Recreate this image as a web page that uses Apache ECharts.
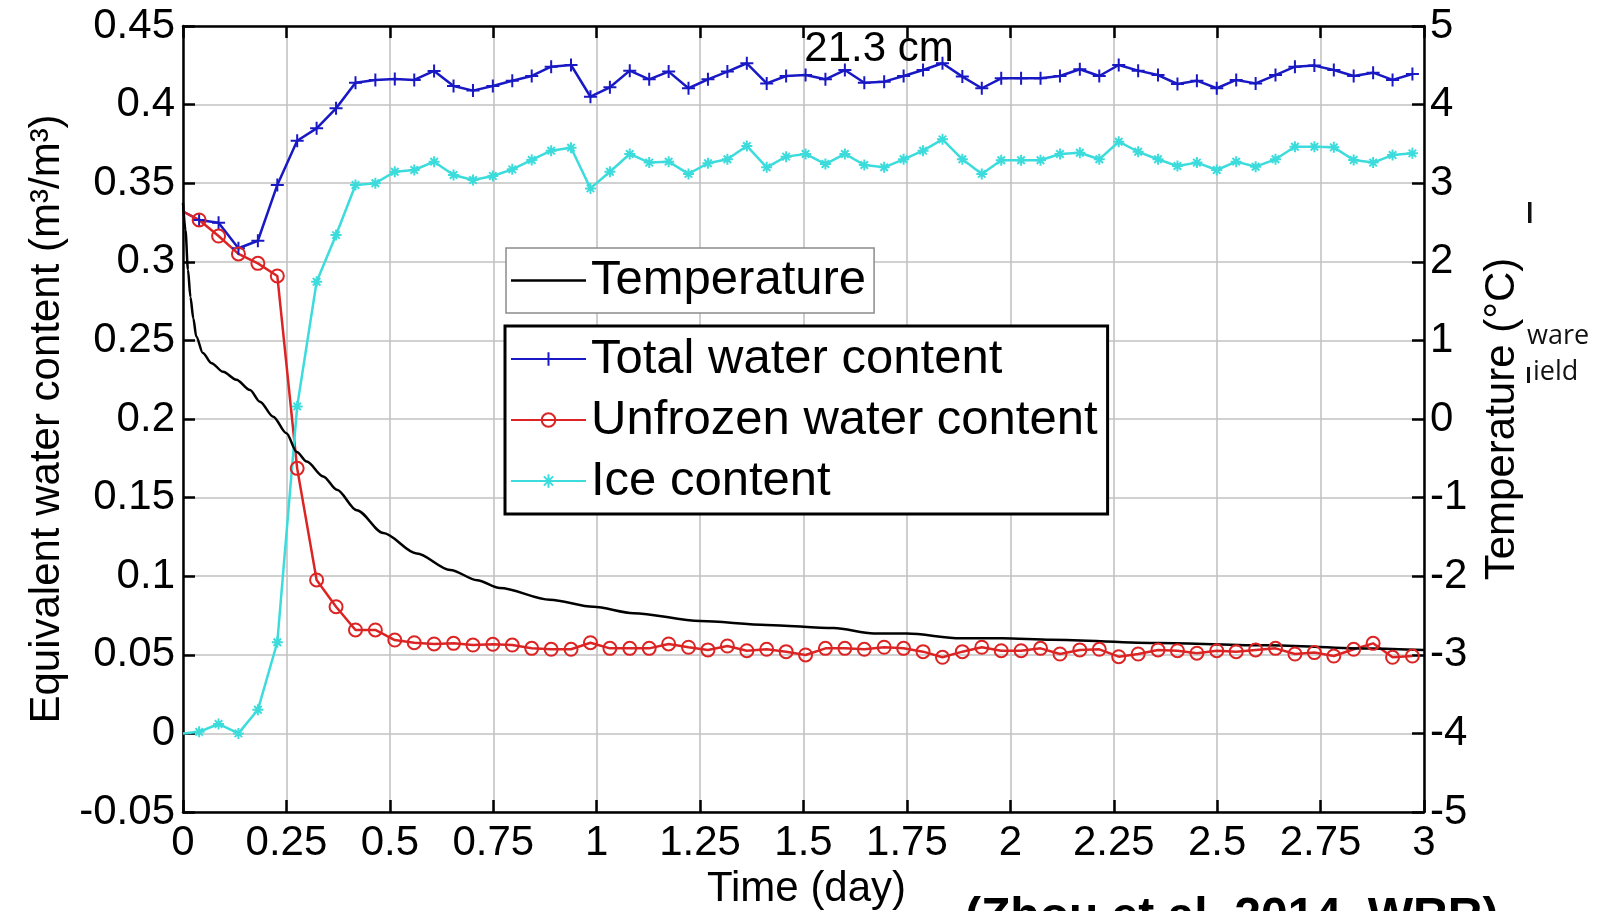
<!DOCTYPE html>
<html>
<head>
<meta charset="utf-8">
<script src="https://cdn.jsdelivr.net/npm/echarts@6/dist/echarts.min.js"></script>
<style>
  html, body { margin: 0; padding: 0; background: #fff; }
  #chart { width: 1610px; height: 911px; }
</style>
</head>
<body>
<div id="chart"></div>
<script>
// Sampling times (day) of the water-content measurements at 21.3 cm depth
const sampleDays = [0, 0.039, 0.086, 0.134, 0.181, 0.228, 0.276, 0.323, 0.370, 0.417, 0.465,
  0.512, 0.559, 0.607, 0.654, 0.701, 0.749, 0.796, 0.843, 0.890, 0.938,
  0.985, 1.032, 1.080, 1.127, 1.174, 1.222, 1.269, 1.316, 1.363, 1.411,
  1.458, 1.505, 1.553, 1.600, 1.647, 1.695, 1.742, 1.789, 1.836, 1.884,
  1.931, 1.978, 2.026, 2.073, 2.120, 2.168, 2.215, 2.262, 2.309, 2.357,
  2.404, 2.451, 2.499, 2.546, 2.593, 2.641, 2.688, 2.735, 2.782, 2.830,
  2.877, 2.924, 2.972];

// Total water content (m3/m3)
const totalWater = [0.332, 0.3266, 0.3249, 0.3086, 0.3134, 0.3489, 0.377, 0.3849, 0.3976, 0.4139, 0.4157,
  0.4163, 0.4157, 0.4214, 0.4118, 0.4089, 0.4118, 0.4152, 0.4182, 0.4241, 0.4252,
  0.405, 0.411, 0.4216, 0.4161, 0.421, 0.4104, 0.4161, 0.421, 0.4263, 0.4135,
  0.4182, 0.4188, 0.4161, 0.422, 0.4139, 0.4146, 0.4182, 0.422, 0.4263, 0.4178,
  0.4104, 0.4167, 0.4167, 0.4167, 0.4182, 0.4225, 0.4182, 0.4252, 0.4216, 0.4188,
  0.4131, 0.4152, 0.4104, 0.4157, 0.4135, 0.4188, 0.4241, 0.4248, 0.422, 0.4182,
  0.4203, 0.4157, 0.4195];

// Unfrozen water content (m3/m3)
const unfrozenWater = [0.332, 0.3266, 0.3164, 0.305, 0.299, 0.291, 0.1686, 0.0976, 0.0806, 0.0658, 0.0658,
  0.0594, 0.0577, 0.0569, 0.0573, 0.0562, 0.0567, 0.0562, 0.0541, 0.0535, 0.0535,
  0.0577, 0.0541, 0.0541, 0.0541, 0.0569, 0.0548, 0.0531, 0.0556, 0.0526, 0.0535,
  0.052, 0.0499, 0.0541, 0.0541, 0.0535, 0.0548, 0.0541, 0.052, 0.0484, 0.052,
  0.0548, 0.0526, 0.0526, 0.0541, 0.0505, 0.0531, 0.0535, 0.0488, 0.0505, 0.0531,
  0.0526, 0.051, 0.0526, 0.052, 0.0531, 0.0541, 0.0505, 0.0514, 0.0492, 0.0535,
  0.0573, 0.0484, 0.0492];

// Ice content expressed as equivalent water (m3/m3)
const iceContent = [0, 0.001, 0.006, 0.000, 0.015, 0.058, 0.208, 0.2873, 0.317, 0.3489, 0.35,
  0.3573, 0.3584, 0.3637, 0.3552, 0.352, 0.3546, 0.3588, 0.3648, 0.3707, 0.3726,
  0.3467, 0.3573, 0.3686, 0.3631, 0.3637, 0.3559, 0.3627, 0.3652, 0.3737, 0.3601,
  0.3669, 0.3686, 0.3622, 0.3686, 0.3616, 0.3601, 0.3652, 0.3707, 0.3779, 0.3652,
  0.3559, 0.3646, 0.3646, 0.3646, 0.3686, 0.3694, 0.3652, 0.3764, 0.37, 0.3652,
  0.3609, 0.3631, 0.3584, 0.3637, 0.3605, 0.3652, 0.3732, 0.3732, 0.3728, 0.3648,
  0.3631, 0.3679, 0.369];

// Soil temperature record (day, degC)
const tempDays = [0, 0.006, 0.012, 0.018, 0.025, 0.032, 0.048, 0.069, 0.097, 0.129, 0.162,
  0.186, 0.218, 0.25, 0.275, 0.299, 0.339, 0.372, 0.42, 0.484, 0.565,
  0.646, 0.711, 0.766, 0.887, 0.992, 1.089, 1.25, 1.411, 1.573, 1.67,
  1.75, 1.88, 1.98, 2.1, 2.36, 2.62, 2.87, 3.0];
const tempC = [2.75, 2.4, 1.9, 1.55, 1.28, 1.05, 0.84, 0.71, 0.6, 0.5, 0.37,
  0.22, 0.03, -0.18, -0.42, -0.54, -0.73, -0.9, -1.16, -1.45, -1.71,
  -1.92, -2.05, -2.15, -2.3, -2.39, -2.47, -2.57, -2.62, -2.66, -2.73,
  -2.73, -2.79, -2.79, -2.81, -2.85, -2.88, -2.92, -2.94];

// Tick labels
const dayTicks = ['0', '0.25', '0.5', '0.75', '1', '1.25', '1.5', '1.75', '2', '2.25', '2.5', '2.75', '3'];
const waterTicks = ['-0.05', '0', '0.05', '0.1', '0.15', '0.2', '0.25', '0.3', '0.35', '0.4', '0.45'];
const tempTicks = ['-5', '-4', '-3', '-2', '-1', '0', '1', '2', '3', '4', '5'];

const FONT = '"Liberation Sans", Arial, Helvetica, sans-serif';
const BLUE = '#1818c4';
const RED = '#dc2424';
const CYAN = '#3ddcdc';
const GRID_GRAY = '#c2c2c2';

const PLUS = 'path://M5,0L5,10M0,5L10,5';
const STAR = 'path://M5,0L5,10M0,5L10,5M1.6,1.6L8.4,8.4M8.4,1.6L1.6,8.4';

function pairs(values) {
  return sampleDays.map((d, i) => i === 0
    ? { value: [d, values[i]], symbol: 'none' }
    : [d, values[i]]);
}

const axisLine = { show: true, onZero: false, lineStyle: { color: '#000', width: 2.5 } };
const axisTick = { show: true, inside: true, length: 12, lineStyle: { color: '#000', width: 2.5 } };
const labelFont = { fontFamily: FONT, fontSize: 42, color: '#000' };

const chart = echarts.init(document.getElementById('chart'), null, { renderer: 'canvas' });

chart.setOption({
  animation: false,
  backgroundColor: '#fff',
  grid: { left: 183, right: 186, top: 26, bottom: 99, containLabel: false, outerBoundsMode: 'none' },
  xAxis: [
    {
      type: 'value', min: 0, max: 3, interval: 0.25, position: 'bottom',
      axisLine, axisTick,
      axisLabel: Object.assign({ margin: 10, formatter: (v, i) => dayTicks[i] }, labelFont),
      splitLine: { show: true, lineStyle: { color: GRID_GRAY, width: 1.6 } },
      name: 'Time (day)', nameLocation: 'middle', nameGap: 52,
      nameTextStyle: Object.assign({ padding: [0, 0, 0, 6] }, labelFont)
    },
    {
      type: 'value', min: 0, max: 3, interval: 0.25, position: 'top',
      axisLine, axisTick,
      axisLabel: { show: false },
      splitLine: { show: false }
    }
  ],
  yAxis: [
    {
      type: 'value', min: -0.05, max: 0.45, interval: 0.05, position: 'left',
      axisLine, axisTick,
      axisLabel: Object.assign({ margin: 8, formatter: (v, i) => waterTicks[i] }, labelFont),
      splitLine: { show: true, lineStyle: { color: GRID_GRAY, width: 1.6 } },
      name: 'Equivalent water content (m³/m³)', nameLocation: 'middle', nameGap: 109,
      nameTextStyle: labelFont
    },
    {
      type: 'value', min: -5, max: 5, interval: 1, position: 'right',
      axisLine, axisTick,
      axisLabel: Object.assign({ margin: 6, formatter: (v, i) => tempTicks[i] }, labelFont),
      splitLine: { show: false },
      name: 'Temperature (°C)', nameLocation: 'middle', nameGap: 57,
      nameTextStyle: labelFont
    }
  ],
  legend: [
    {
      data: [{ name: 'Temperature', icon: 'rect' }],
      orient: 'vertical', left: 506, top: 248,
      itemWidth: 75, itemHeight: 2.5,
      padding: [7, 8, 7, 5],
      borderColor: '#8c8c8c', borderWidth: 1.5, backgroundColor: '#fff',
      selectedMode: false,
      textStyle: { fontFamily: FONT, fontSize: 49, color: '#000', lineHeight: 51 }
    },
    {
      data: ['Total water content', 'Unfrozen water content', 'Ice content'],
      orient: 'vertical', left: 505, top: 326,
      itemWidth: 75, itemHeight: 17, itemGap: 5,
      padding: [5, 10, 5, 5],
      borderColor: '#000', borderWidth: 3, backgroundColor: '#fff',
      selectedMode: false,
      itemStyle: { borderWidth: 2 },
      textStyle: { fontFamily: FONT, fontSize: 49, color: '#000', lineHeight: 56 }
    }
  ],
  series: [
    {
      name: 'Total water content', type: 'line', xAxisIndex: 0, yAxisIndex: 0,
      data: pairs(totalWater),
      symbol: PLUS, symbolSize: 13, showAllSymbol: true,
      lineStyle: { color: BLUE, width: 2.5 },
      itemStyle: { color: BLUE, borderColor: BLUE, borderWidth: 2 }
    },
    {
      name: 'Unfrozen water content', type: 'line', xAxisIndex: 0, yAxisIndex: 0,
      data: pairs(unfrozenWater),
      symbol: 'circle', symbolSize: 13, showAllSymbol: true,
      lineStyle: { color: RED, width: 2.5 },
      itemStyle: { color: 'rgba(255,255,255,0)', borderColor: RED, borderWidth: 2 }
    },
    {
      name: 'Ice content', type: 'line', xAxisIndex: 0, yAxisIndex: 0,
      data: pairs(iceContent),
      symbol: STAR, symbolSize: 11, showAllSymbol: true,
      lineStyle: { color: CYAN, width: 2.5 },
      itemStyle: { color: CYAN, borderColor: CYAN, borderWidth: 2 }
    },
    {
      name: 'Temperature', type: 'line', xAxisIndex: 0, yAxisIndex: 1,
      data: tempDays.map((d, i) => [d, tempC[i]]),
      showSymbol: false, symbol: 'none',
      smooth: 0.3, smoothMonotone: 'x',
      lineStyle: { color: '#000', width: 2.5 },
      itemStyle: { color: '#000' }
    }
  ],
  graphic: [
    {
      type: 'text', x: 879, y: 49, z: 10,
      style: { text: '21.3 cm', font: '42px ' + FONT, fill: '#000', textAlign: 'center', textVerticalAlign: 'middle' }
    },
    {
      type: 'text', x: 965, y: 918, z: 10,
      style: { text: '(Zhou et al. 2014, WRR)', font: 'bold 48px ' + FONT, fill: '#000', textAlign: 'left', textVerticalAlign: 'middle' }
    },
    {
      type: 'text', x: 1527, y: 336, z: 10,
      style: { text: 'ware', font: '27px "Open Sans", "Noto Sans", sans-serif', fill: '#111', textAlign: 'left', textVerticalAlign: 'middle' }
    },
    {
      type: 'text', x: 1533, y: 372, z: 10,
      style: { text: 'ield', font: '27px "Open Sans", "Noto Sans", sans-serif', fill: '#111', textAlign: 'left', textVerticalAlign: 'middle' }
    },
    { type: 'rect', shape: { x: 1527, y: 367, width: 3, height: 16 }, style: { fill: '#111' }, z: 10 },
    { type: 'rect', shape: { x: 1528, y: 202, width: 3.5, height: 21 }, style: { fill: '#111' }, z: 10 }
  ]
});
</script>
</body>
</html>
